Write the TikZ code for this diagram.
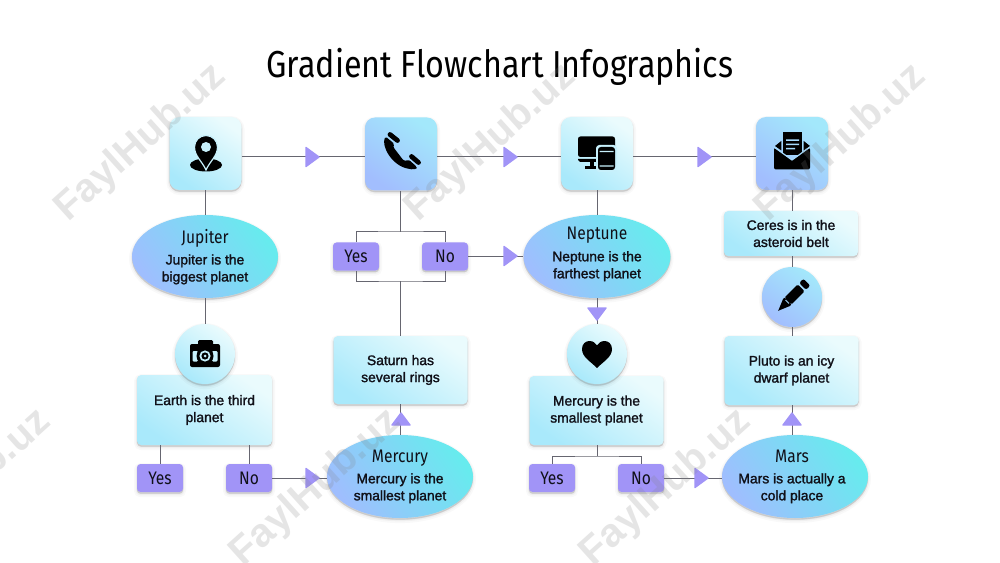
\documentclass[tikz,border=0pt]{standalone}
\usepackage{fontspec}
\usetikzlibrary{shapes.geometric}
\setmainfont{Liberation Sans}
\newfontfamily\firaf[FakeStretch=0.86]{Fira Sans}
\newfontfamily\bodyf[FakeBold=1.6]{Liberation Sans}
\newfontfamily\wmf{Liberation Sans}
\newcommand{\bfnt}{\bodyf\fontsize{10.4}{12.75}\selectfont}
\newcommand{\tfnt}{\firaf\fontsize{13.6}{16}\selectfont}
\definecolor{ink}{HTML}{101018}
\definecolor{lnc}{HTML}{666670}
\definecolor{pur}{HTML}{A194F7}
\definecolor{cyL}{HTML}{EAFBFD}
\definecolor{cyM}{HTML}{A9E9FB}
\definecolor{blT}{HTML}{A3E8FB}
\definecolor{blB}{HTML}{A2BEFE}
\definecolor{elT}{HTML}{67EBEE}
\definecolor{elB}{HTML}{9FBEFE}
\definecolor{holec}{HTML}{C7F0FB}
\definecolor{holeb}{HTML}{A6DAFC}
\tikzset{
  x=.75pt,y=-.75pt,
  wh/.style 2 args={minimum width=#1*.75pt,minimum height=#2*.75pt},
  soft/.style={
    preaction={draw=black,fill=black,draw opacity=.025,fill opacity=.04,line width=4.5pt,transform canvas={yshift=-1.6pt}},
    preaction={draw=black,fill=black,draw opacity=.035,fill opacity=.04,line width=2.2pt,transform canvas={yshift=-1.4pt}},
    preaction={draw=black,fill=black,draw opacity=.04,fill opacity=.06,line width=.6pt,transform canvas={yshift=-1.0pt}}},
  lightgrad/.style={top color=cyL,bottom color=cyM,shading angle=-35},
  bluegrad/.style={top color=blT,bottom color=blB,shading angle=-35},
  elgrad/.style={top color=elT,bottom color=elB,shading angle=-55},
  iconbox/.style={rectangle,rounded corners=7.5pt,inner sep=0pt,wh={72}{73},soft},
  textbox/.style={rectangle,rounded corners=3.2pt,inner sep=0pt,soft,lightgrad,align=center,text=ink,font=\bfnt},
  planet/.style={ellipse,inner sep=0pt,wh={146}{83},soft,elgrad,text=ink,font=\bfnt},
  disc/.style={circle,inner sep=0pt,minimum size=45pt,soft},
  choice/.style={rectangle,rounded corners=2.6pt,inner sep=0pt,wh={46}{28},soft,fill=pur,text=ink,font=\tfnt},
  link/.style={draw=lnc,line width=.75pt},
  marker/.style={fill=pur,draw=pur,line width=1pt,line join=round},
  ico/.style={fill=black,draw=none},
  wmk/.style={font={\wmf\bfseries\fontsize{30}{34}\selectfont},text=gray,text opacity=.2,rotate=42,inner sep=0pt},
}
\newcommand{\arrR}[2]{\path[marker] (#1,#2) -- ++(-13,-9.5) -- ++(0,19) -- cycle;}
\newcommand{\arrU}[2]{\path[marker] (#1,#2) -- ++(-9,12) -- ++(18,0) -- cycle;}
\newcommand{\arrD}[2]{\path[marker] (#1,#2) -- ++(-9,-12) -- ++(18,0) -- cycle;}
% #1 left shift, #2 lift, #3 heading, #4 and #5 the two lines
\newcommand{\plan}[5]{\makebox[0pt]{\hspace*{#1}\raisebox{#2}[\height][\depth]{\begin{tabular}{@{}c@{}}{\tfnt #3}\\[3.2pt]#4\\#5\end{tabular}}}}
\begin{document}
\begin{tikzpicture}
\path[use as bounding box] (0,0) rectangle (1000,563);
\fill[white] (0,0) rectangle (1000,563);

\coordinate (v1) at (400.5,232);
\coordinate (v2) at (400.5,281);
\coordinate (v3) at (597,456);
\coordinate (toprow) at (500,157);

\node[font={\firaf\fontsize{28.15}{32}\selectfont},text=black,inner sep=0pt] (title) at (500,67) {Gradient Flowchart Infographics};

\node[iconbox,lightgrad] (bA) at (205.5,153.5) {};
\node[iconbox,bluegrad] (bB) at (401,154) {};
\node[iconbox,lightgrad] (bC) at (597,153.5) {};
\node[iconbox,bluegrad] (bD) at (792,153.5) {};

\node[planet] (jup) at (205,256.5) {\plan{0pt}{-1pt}{Jupiter}{Jupiter is the}{biggest planet}};
\node[textbox,wh={135}{70}] (earth) at (204.5,410) {Earth is the third\\planet};
\node[disc,lightgrad] (cam) at (205,354) {};
\node[choice] (y1) at (160,478) {Yes};
\node[choice] (n1) at (249,478) {No};
\node[planet] (mer) at (400,476.5) {\plan{0pt}{-.75pt}{Mercury}{Mercury is the}{smallest planet}};
\node[textbox,wh={134}{68}] (sat) at (400.5,370) {Saturn has\\several rings};
\node[choice] (y2) at (356,256.5) {Yes};
\node[choice] (n2) at (445,256.5) {No};
\node[planet,wh={147}{83}] (nep) at (597,256.5) {\plan{0pt}{.8pt}{Neptune}{Neptune is the}{farthest planet}};
\node[textbox,wh={134}{69}] (mrc) at (596.5,410.5) {Mercury is the\\smallest planet};
\node[disc,lightgrad] (hrt) at (597,354) {};
\node[choice] (y3) at (552,478) {Yes};
\node[choice] (n3) at (641,478) {No};
\node[planet] (mar) at (795,476.5) {\plan{-4.5pt}{-.75pt}{Mars}{Mars is actually a}{cold place}};
\node[textbox,wh={134}{69}] (plu) at (791.5,370.5) {Pluto is an icy\\dwarf planet};
\node[disc,bluegrad] (pen) at (792,297) {};
\node[textbox,wh={134}{45}] (cer) at (791,233.5) {Ceres is in the\\asteroid belt};

% connectors
\draw[link] (bA.east |- toprow) -- (bB.west |- toprow);
\draw[link] (bB.east |- toprow) -- (bC.west |- toprow);
\draw[link] (bC.east |- toprow) -- (bD.west |- toprow);
\draw[link] (jup.north -| bA.south) -- (bA.south);
\draw[link] (jup.south) -- (cam.north);
\draw[link] (y1.north |- earth.south) -- (y1.north);
\draw[link] (n1.north |- earth.south) -- (n1.north);
\draw[link] (n1.east) -- (n1.east -| mer.west);
\draw[link] (sat.south -| mer.north) -- (mer.north);
\draw[link] (bB.south -| v1) -- (v1);
\draw[link] (y2.north) |- (v1) -| (n2.north);
\draw[link] (y2.south) |- (v2) -| (n2.south);
\draw[link] (v2) -- (v2 |- sat.north);
\draw[link] (n2.east) -- (nep.west);
\draw[link] (bC.south) -- (nep.north);
\draw[link] (nep.south) -- (hrt.north);
\draw[link] (mrc.south -| v3) -- (v3);
\draw[link] (y3.north) |- (v3) -| (n3.north);
\draw[link] (n3.east) -- (n3.east -| mar.west);
\draw[link] (pen.south |- plu.south) -- (pen.south |- mar.north);
\draw[link] (pen.south) -- (pen.south |- plu.north);
\draw[link] (pen.north) -- (pen.north |- cer.south);
\draw[link] (bD.south) -- (bD.south |- cer.north);

% markers
\arrR{319}{157}\arrR{517}{157}\arrR{711}{157}
\arrR{517}{256}\arrR{319}{478}\arrR{708}{478}
\arrU{401}{413}\arrU{792}{413}\arrD{597}{320}

% icon: location pin
\path[ico] (206,165) ellipse (16 and 6.5);
\path[ico,draw=holec,line width=.9pt] (206,170) .. controls (202,161) and (194.5,156) .. (194.5,147) arc[start angle=180,end angle=360,radius=11.5] .. controls (217.5,156) and (210,161) .. (206,170) -- cycle;
\path[fill=holec] (206,147) circle (5);

% icon: telephone handset
\path[ico,rounded corners=1.2pt] (385.5,136.5) .. controls (381,146) and (392,166) .. (410,169) .. controls (414,169.7) and (417,168.5) .. (416.5,166.5) -- (408.5,159.5) .. controls (406,161) and (404,161) .. (402,158.5) -- (395.5,150) .. controls (393.5,147.5) and (393.5,146) .. (394.5,144) -- cycle;
\draw[black,line width=3.6pt,line cap=round] (390,134.5) -- (397.5,140.5);
\draw[black,line width=3.6pt,line cap=round] (411.5,156.5) -- (418.5,162.5);

% icon: monitor and phone
\path[ico,rounded corners=1.8pt] (578,136.5) rectangle (615,157);
\path[ico] (578,159) -- (598,159) -- (598,162) -- (580,162) -- (578,160) -- cycle;
\path[ico] (590,162) rectangle (594,166);
\path[ico] (585,166) rectangle (597,169);
\path[fill=holec,rounded corners=2.5pt] (596,145) rectangle (617,172);
\path[ico,rounded corners=2.2pt] (598,147) rectangle (615,170);
\path[fill=holec] (599.5,151) rectangle (613.5,152.2) (599.5,165.4) rectangle (613.5,166.6);

% icon: envelope
\path[ico] (783,132) rectangle (802,155);
\path[ico] (775,146) -- (781.3,141) -- (781.3,150.5) -- cycle;
\path[ico] (810,146) -- (803.7,141) -- (803.7,150.5) -- cycle;
\path[fill=holeb] (786,139.5) rectangle (799,141) (786,143.7) rectangle (799,145.2) (786,148) rectangle (795,149.5);
\path[ico,rounded corners=1.5pt] (774,147.5) -- (792,160.5) -- (810,147.5) -- (810,169.5) -- (774,169.5) -- cycle;
\draw[holeb,line width=.9pt] (774,147) -- (792,160) -- (810,147);

% icon: pencil
\begin{scope}[shift={(792,297)},rotate=45]
\path[ico,rounded corners=1pt] (-6,-4.8) rectangle (13,4.8);
\path[ico,rounded corners=1.5pt] (15,-4.8) rectangle (21,4.8);
\path[ico] (-8,-4.8) -- (-6,-4.8) -- (-6,4.8) -- (-8,4.8) -- (-19.5,0) -- cycle;
\path[fill=holeb] (-6.2,-2.4) -- (-7.2,-2.4) -- (-7.2,2.4) -- (-6.2,2.4) -- cycle;
\end{scope}

% icon: camera
\path[ico,rounded corners=1.5pt] (190,344) rectangle (220,367);
\path[ico,rounded corners=1pt] (198,340) rectangle (213,346);
\path[fill=holec,rounded corners=.8pt] (192.5,351) rectangle (198,361.5) (212,351) rectangle (217.5,361.5);
\path[ico] (205,356) circle (8.5);
\path[fill=holec] (205,356) circle (5.6);
\path[ico] (205,356) circle (3.6);
\path[fill=holec] (205,356) circle (1.5);

% icon: heart
\path[ico] (597,368) .. controls (590,361) and (582,357) .. (582,349) .. controls (582,343.5) and (586,341) .. (589.5,341) .. controls (593,341) and (595.5,343) .. (597,345.5) .. controls (598.5,343) and (601,341) .. (604.5,341) .. controls (608,341) and (612,343.5) .. (612,349) .. controls (612,357) and (604,361) .. (597,368) -- cycle;

% watermark
\begin{scope}
\clip (0,0) rectangle (1000,563);
\node[wmk] (w1) at (141,143) {FaylHub.uz};
\node[wmk] (w2) at (491,143) {FaylHub.uz};
\node[wmk] (w3) at (841,143) {FaylHub.uz};
\node[wmk] (w4) at (-34,488) {FaylHub.uz};
\node[wmk] (w5) at (316,488) {FaylHub.uz};
\node[wmk] (w6) at (666,488) {FaylHub.uz};
\end{scope}
\end{tikzpicture}
\end{document}
